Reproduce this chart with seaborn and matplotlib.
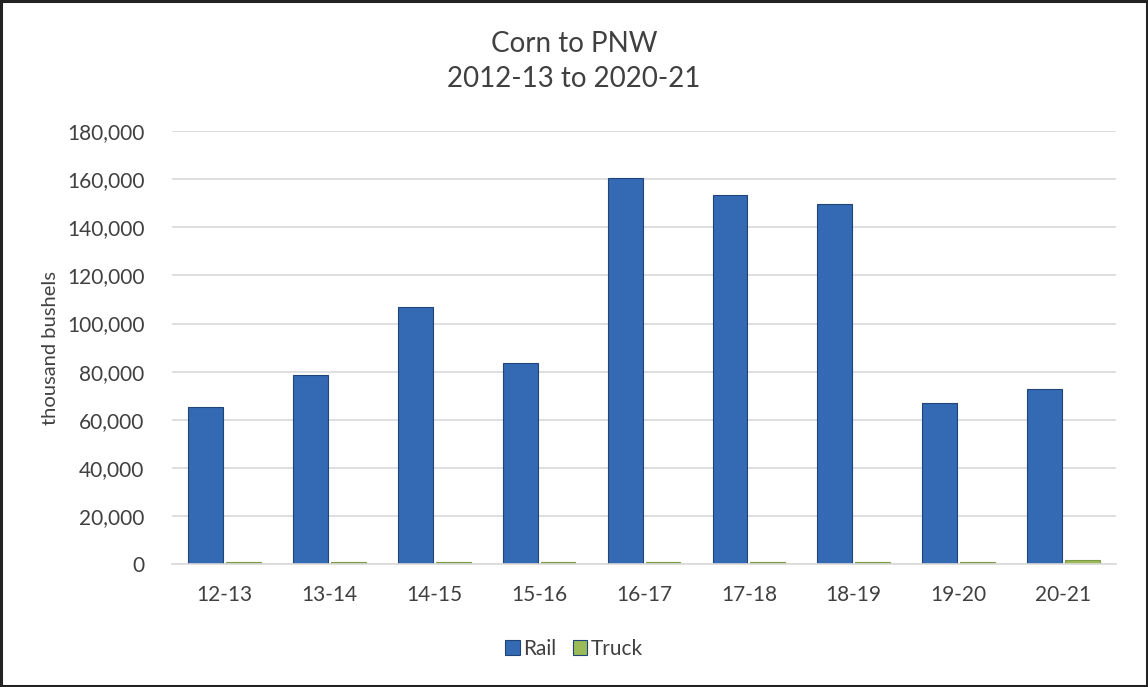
import matplotlib
matplotlib.use("Agg")
import matplotlib.pyplot as plt
import seaborn as sns
import pandas as pd
from matplotlib.patches import Rectangle
from matplotlib.ticker import FuncFormatter

years = ["12-13", "13-14", "14-15", "15-16", "16-17", "17-18", "18-19", "19-20", "20-21"]
rail = [65500, 78800, 107000, 83800, 160500, 153300, 149800, 67000, 72900]
truck = [800, 800, 800, 800, 800, 800, 800, 700, 1800]
series = ["Rail", "Truck"]
colors = ["#3469b4", "#9bbb59"]

df = pd.DataFrame({
    "year": years * 2,
    "value": rail + truck,
    "mode": [series[0]] * len(years) + [series[1]] * len(years),
})

sns.set_theme(style="white")
plt.rcParams["font.family"] = ["Lato", "DejaVu Sans"]

fig = plt.figure(figsize=(11.48, 6.87), dpi=100)
ax = fig.add_axes([0.15, 0.179, 0.822, 0.630])

sns.barplot(data=df, x="year", y="value", hue="mode", palette=colors,
            saturation=1, width=0.72, gap=0.08, ax=ax, legend=True,
            edgecolor="#1f4475", linewidth=0.8)
for p in ax.patches[len(years):2 * len(years)]:
    p.set_edgecolor("#7f9a46")

ax.set_ylim(0, 180000)
ax.set_yticks(range(0, 180001, 20000))
ax.yaxis.set_major_formatter(FuncFormatter(lambda v, _: f"{int(v):,}"))
ax.grid(axis="y", color="#d9d9d9", linewidth=1.2)
ax.set_axisbelow(True)
for s in ["left", "right", "top"]:
    ax.spines[s].set_visible(False)
ax.spines["bottom"].set_color("#d9d9d9")
ax.spines["bottom"].set_linewidth(1.2)
ax.tick_params(axis="both", length=0, labelsize=15, colors="#404040")
ax.tick_params(axis="y", pad=20)
ax.tick_params(axis="x", pad=15)
ax.set_xlabel("")
ax.set_ylabel("thousand bushels", fontsize=14.5, color="#404040", labelpad=6)
ax.set_xlim(-0.5, len(years) - 0.5)

fig.suptitle("Corn to PNW\n2012-13 to 2020-21", y=0.955, fontsize=20,
             color="#404040", linespacing=1.45)

handles, labels = ax.get_legend_handles_labels()
ax.legend_.remove()
fig.legend(handles, labels, loc="center", bbox_to_anchor=(0.5, 0.056), ncol=2,
           frameon=False, fontsize=15, handlelength=0.7, handleheight=0.7,
           handletextpad=0.15, columnspacing=0.8, labelcolor="#404040")

fig.patches.append(Rectangle((0.001, 0.002), 0.998, 0.996, transform=fig.transFigure,
                             fill=False, edgecolor="#222222", linewidth=2.2))

fig.savefig("out.png", dpi=100)
